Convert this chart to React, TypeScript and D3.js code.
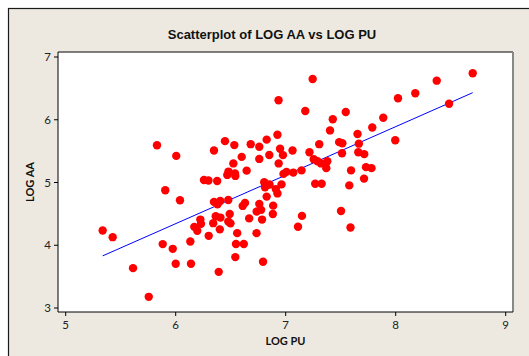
import React from "react";
import * as d3 from "d3";

const logPU: number[] = [
  5.336, 5.427, 5.612, 5.755, 5.830, 5.882, 5.905, 5.973, 6.000, 6.005,
  6.039, 6.133, 6.139, 6.169, 6.196, 6.224, 6.230, 6.257, 6.298, 6.300,
  6.341, 6.348, 6.348, 6.364, 6.377, 6.380, 6.391, 6.401, 6.405, 6.407,
  6.448, 6.469, 6.480, 6.478, 6.478, 6.491, 6.498, 6.524, 6.533, 6.539,
  6.542, 6.542, 6.548, 6.559, 6.600, 6.609, 6.619, 6.630, 6.645, 6.668,
  6.682, 6.736, 6.735, 6.760, 6.760, 6.760, 6.777, 6.785, 6.794, 6.805,
  6.828, 6.853, 6.812, 6.827, 6.827, 6.851, 6.883, 6.886, 6.910, 6.925,
  6.925, 6.935, 6.936, 6.949, 6.962, 6.975, 6.980, 7.007, 7.062, 7.069,
  7.112, 7.144, 7.148, 7.178, 7.216, 7.245, 7.255, 7.268, 7.289, 7.305,
  7.321, 7.327, 7.369, 7.378, 7.403, 7.428, 7.486, 7.503, 7.515, 7.512,
  7.546, 7.578, 7.589, 7.594, 7.653, 7.665, 7.660, 7.714, 7.712, 7.730,
  7.780, 7.787, 7.887, 7.996, 8.021, 8.178, 8.373, 8.485, 8.700,
];

const logAA: number[] = [
  4.234, 4.129, 3.635, 3.178, 5.594, 4.018, 4.877, 3.943, 3.704, 5.424,
  4.718, 4.059, 3.704, 4.293, 4.232, 4.409, 4.341, 5.041, 5.033, 4.150,
  4.352, 5.511, 4.691, 4.463, 5.025, 4.651, 3.576, 4.253, 4.704, 4.441,
  5.659, 5.121, 5.174, 4.720, 4.377, 4.497, 4.349, 5.304, 5.596, 5.145,
  5.105, 3.811, 4.019, 4.193, 5.408, 4.627, 4.019, 4.675, 5.189, 4.428,
  5.611, 4.537, 4.193, 5.570, 5.376, 4.659, 4.564, 4.409, 3.736, 5.005,
  4.959, 4.967, 4.925, 5.683, 4.775, 5.439, 4.498, 4.631, 4.895, 4.826,
  5.760, 6.311, 5.304, 5.538, 4.970, 5.436, 5.137, 5.169, 5.511, 5.158,
  4.296, 5.193, 4.468, 6.140, 5.482, 6.650, 5.371, 4.981, 5.339, 5.611,
  5.304, 4.981, 5.229, 5.339, 5.830, 6.008, 5.643, 4.545, 5.626, 5.467,
  6.124, 4.954, 4.283, 5.193, 5.774, 5.619, 5.482, 5.452, 5.062, 5.245,
  5.229, 5.877, 6.033, 5.674, 6.342, 6.422, 6.623, 6.256, 6.740,
];

const xTicks: number[] = [5, 6, 7, 8, 9];
const yTicks: number[] = [3, 4, 5, 6, 7];

// fitted regression line: LOG AA = intercept + slope * LOG PU
const fitIntercept = -0.294;
const fitSlope = 0.773;

const title = "Scatterplot of LOG AA vs LOG PU";
const xLabel = "LOG PU";
const yLabel = "LOG AA";

export default function App() {
  const W = 529;
  const H = 356;
  const left = 58;
  const right = 513;
  const top = 52;
  const bottom = 312;

  const x = d3.scaleLinear().domain([5, 9]).range([65.7, 505.7]);
  const y = d3.scaleLinear().domain([3, 7]).range([308, 57]);

  const xMin = d3.min(logPU) as number;
  const xMax = d3.max(logPU) as number;
  const lineGen = d3
    .line<number>()
    .x((d) => x(d))
    .y((d) => y(fitIntercept + fitSlope * d));

  const tickFont = "Lato, 'Open Sans', sans-serif";

  return (
    <svg
      width={W}
      height={H}
      style={{ position: "absolute", left: 0, top: 0 }}
    >
      <rect x={0} y={0} width={W} height={H} fill="#ffffff" />
      <rect
        x={8.5}
        y={8.5}
        width={W + 10}
        height={H + 10}
        fill="#EDE9E0"
        stroke="#1a1a1a"
        strokeWidth={1.2}
      />
      <text
        x={272}
        y={39}
        textAnchor="middle"
        fontFamily="'Liberation Sans', Arial, sans-serif"
        fontWeight="bold"
        fontSize={13}
        fill="#111"
      >
        {title}
      </text>

      <rect x={left} y={top} width={right - left} height={bottom - top} fill="#ffffff" />

      <path
        d={lineGen([xMin, xMax]) || ""}
        fill="none"
        stroke="#0000FF"
        strokeWidth={1}
      />

      {logPU.map((v, i) => (
        <circle key={i} cx={x(v)} cy={y(logAA[i])} r={4.2} fill="#FF0000" />
      ))}

      {/* frame */}
      <line x1={left} y1={top} x2={right} y2={top} stroke="#555" strokeWidth={1.5} />
      <line x1={right} y1={top} x2={right} y2={bottom} stroke="#888" strokeWidth={2} />
      <line x1={left} y1={top} x2={left} y2={bottom} stroke="#000" strokeWidth={1} />
      <line x1={left} y1={bottom} x2={right} y2={bottom} stroke="#000" strokeWidth={1} />

      {xTicks.map((t) => (
        <g key={"x" + t}>
          <line x1={x(t)} x2={x(t)} y1={bottom} y2={bottom + 4} stroke="#000" />
          <text
            x={x(t)}
            y={329}
            textAnchor="middle"
            fontFamily={tickFont}
            fontSize={11.5}
            fill="#222"
          >
            {t}
          </text>
        </g>
      ))}
      {yTicks.map((t) => (
        <g key={"y" + t}>
          <line x1={left - 4} x2={left} y1={y(t)} y2={y(t)} stroke="#000" />
          <text
            x={51}
            y={y(t) + 4}
            textAnchor="end"
            fontFamily={tickFont}
            fontSize={11.5}
            fill="#222"
          >
            {t}
          </text>
        </g>
      ))}

      <text
        x={285.5}
        y={344.5}
        textAnchor="middle"
        fontFamily={tickFont}
        fontWeight="bold"
        fontSize={11}
        fill="#111"
      >
        {xLabel}
      </text>
      <text
        transform={`translate(34,182) rotate(-90)`}
        textAnchor="middle"
        fontFamily={tickFont}
        fontWeight="bold"
        fontSize={11}
        fill="#111"
      >
        {yLabel}
      </text>
    </svg>
  );
}
